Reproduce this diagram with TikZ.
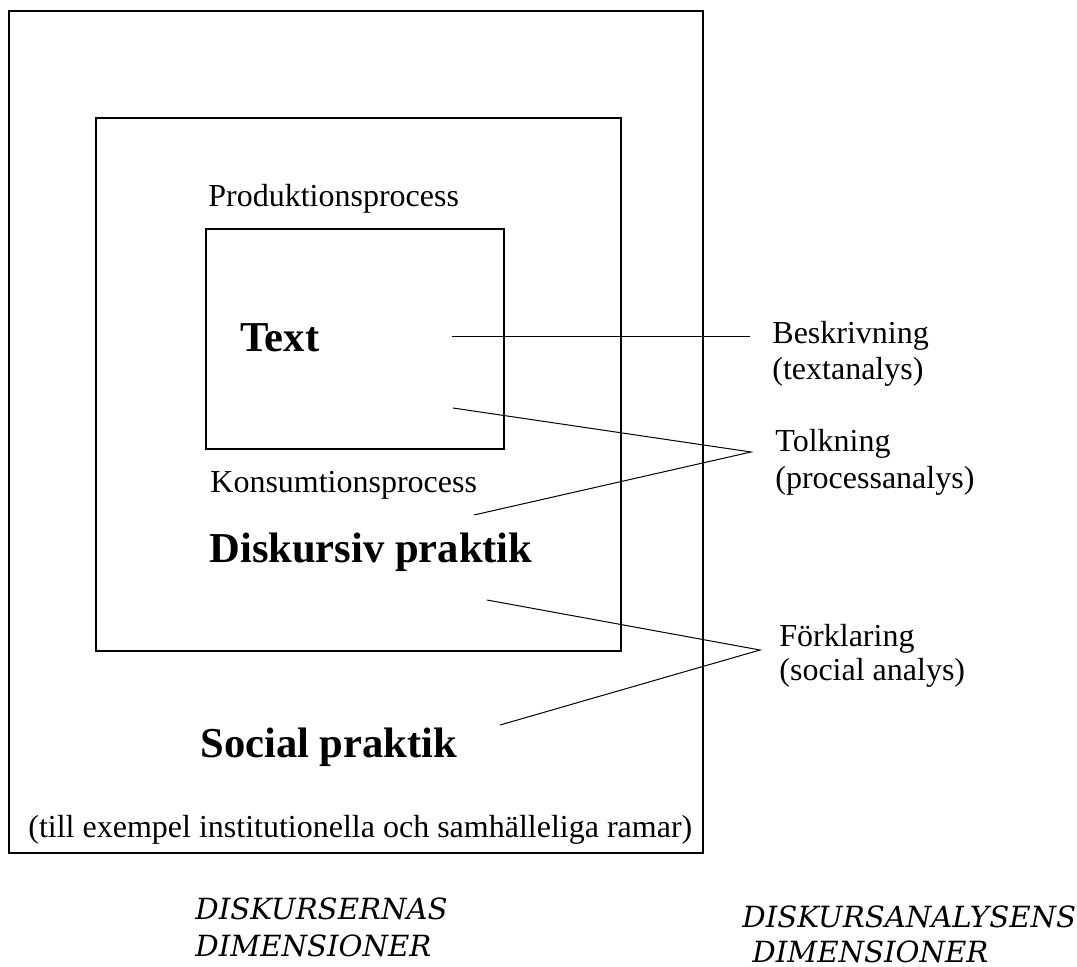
\documentclass[tikz,border=0pt]{standalone}
\usepackage{fontspec}
\setmainfont{Liberation Serif}
\newfontfamily\dimfont{DejaVu Serif}
\begin{document}
\begin{tikzpicture}[x=0.5pt,y=-0.5pt,
  box/.style={draw,line width=1pt},
  conn/.style={line width=0.5pt},
  lbl/.style={anchor=base west,inner sep=0pt,font=\fontsize{16}{18}\selectfont},
  big/.style={anchor=base west,inner sep=0pt,font=\fontsize{21.3}{24}\selectfont\bfseries},
  dim/.style={anchor=base west,inner sep=0pt,font=\dimfont\itshape\fontsize{14.6}{16}\selectfont}]
\useasboundingbox (0,0) rectangle (1077,967);
% boxes
\draw[box] (9,11) rectangle (703,853);
\draw[box] (96,118) rectangle (621,651);
\draw[box] (206,229) rectangle (504,449);
% texts inside
\node[lbl] (prod) at (208,207) {Produktionsprocess};
\node[big] (text) at (240,352) {Text};
\node[lbl] (kons) at (210,493) {Konsumtionsprocess};
\node[big] (disk) at (209,563) {Diskursiv praktik};
\node[big] (soc) at (200,758) {Social praktik};
\node[lbl] (ramar) at (28,838) {(till exempel institutionella och samhälleliga ramar)};
% right labels
\node[lbl] (besk) at (772,344) {Beskrivning};
\node[lbl] (besk2) at (772,380) {(textanalys)};
\node[lbl] (tolk) at (775,452) {Tolkning};
\node[lbl] (tolk2) at (775,489) {(processanalys)};
\node[lbl] (fork) at (779,647) {Förklaring};
\node[lbl] (fork2) at (779,681) {(social analys)};
% bottom labels
\node[dim] (d1) at (195,920) {DISKURSERNAS};
\node[dim] (d2) at (195,956) {DIMENSIONER};
\node[dim] (d3) at (742,927) {DISKURSANALYSENS};
\node[dim] (d4) at (752,962) {DIMENSIONER};
% connector points
\coordinate (b1) at (452,337);
\coordinate (b2) at (750,337);
\coordinate (t1) at (453,408);
\coordinate (tv) at (751,452);
\coordinate (t2) at (474,515);
\coordinate (f1) at (487,600);
\coordinate (fv) at (760,650);
\coordinate (f2) at (500,725);
\draw[conn] (b1) -- (b2);
\draw[conn] (t1) -- (tv) -- (t2);
\draw[conn] (f1) -- (fv) -- (f2);
\end{tikzpicture}
\end{document}
